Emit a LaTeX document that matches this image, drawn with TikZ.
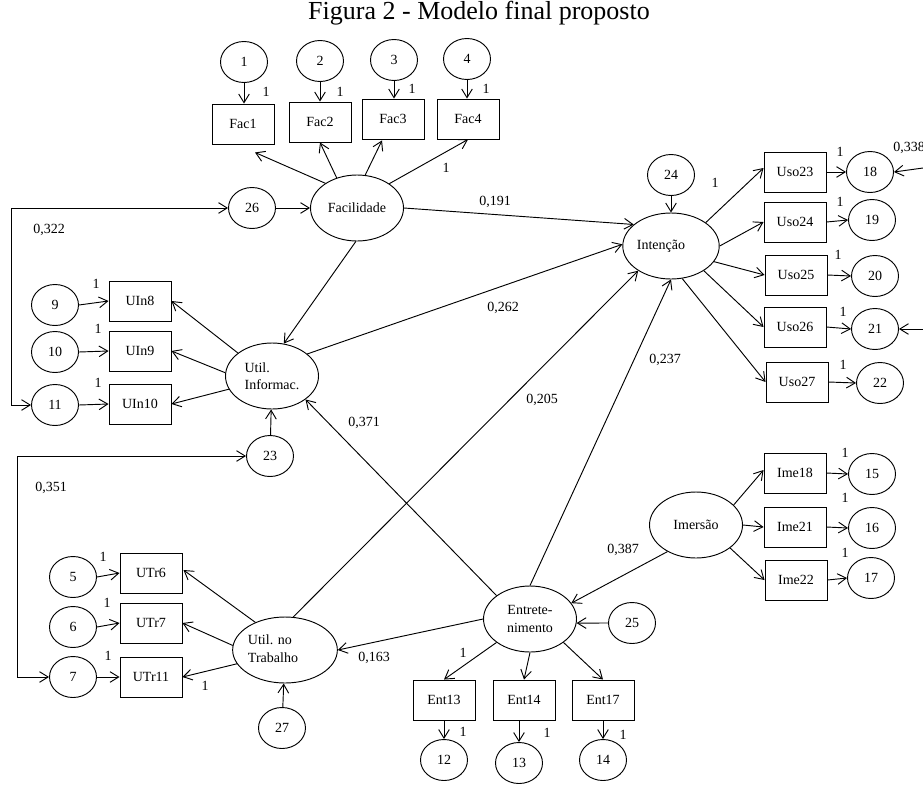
\documentclass[tikz,border=0pt]{standalone}
\usepackage{fontspec}
\setmainfont{Liberation Serif}
\usetikzlibrary{shapes.geometric,arrows.meta,calc}
\begin{document}
\begin{tikzpicture}[x=0.75pt,y=-0.75pt,
  font=\fontsize{10.5}{13}\selectfont,
  lat/.style={ellipse,draw,line width=0.7pt,minimum width=69.75pt,minimum height=49.5pt,inner sep=0pt},
  err/.style={ellipse,draw,line width=0.7pt,minimum width=35.25pt,minimum height=30.75pt,inner sep=0pt},
  obs/.style={rectangle,draw,line width=0.7pt,minimum width=46.5pt,minimum height=30pt,inner sep=0pt},
  arr/.style={-{Straight Barb[length=6.5pt,width=8pt]},line width=0.7pt},
  cov/.style={{Straight Barb[length=6.5pt,width=8pt]}-{Straight Barb[length=6.5pt,width=8pt]},line width=0.7pt},
  lbl/.style={inner sep=0pt}]
\useasboundingbox (0,0) rectangle (923,785);

% title
\node[lbl,font=\fontsize{19.5}{22}\selectfont] (title) at (479,13) {Figura 2 - Modelo final proposto};

% Facilidade block
\node[err] (e1) at (244,62) {1};
\node[err] (e2) at (320,61) {2};
\node[err] (e3) at (394,60) {3};
\node[err] (e4) at (467,59) {4};
\node[obs] (fac1) at (243,124) {Fac1};
\node[obs] (fac2) at (320,122) {Fac2};
\node[obs] (fac3) at (393,119) {Fac3};
\node[obs] (fac4) at (468,119) {Fac4};
\node[lat] (fac) at (357,208) {Facilidade};
\node[err] (e26) at (252,208) {26};

% Intencao block
\node[lat] (int) at (671,246) {Intenção\hspace*{15pt}};
\node[err] (e24) at (671,175) {24};
\node[obs] (uso23) at (795,172) {Uso23};
\node[obs] (uso24) at (795,222) {Uso24};
\node[obs] (uso25) at (796,275) {Uso25};
\node[obs] (uso26) at (795,327) {Uso26};
\node[obs] (uso27) at (797,382) {Uso27};
\node[err] (e18) at (870,172) {18};
\node[err] (e19) at (872,220) {19};
\node[err] (e20) at (875,276) {20};
\node[err] (e21) at (875,329) {21};
\node[err] (e22) at (880,383) {22};
\coordinate (r18) at (923,168);
\coordinate (r21) at (923,329);

% Util. Informac. block
\node[lat,align=left] (uinf) at (272,376) {Util.\\Informac.};
\node[err] (e9) at (55,305) {9};
\node[err] (e10) at (55,352) {10};
\node[err] (e11) at (55,405) {11};
\node[obs] (uin8) at (140,301) {UIn8};
\node[obs] (uin9) at (140,351) {UIn9};
\node[obs] (uin10) at (140,404) {UIn10};
\node[err] (e23) at (270,456) {23};

% Util. no Trabalho block
\node[lat] (utr) at (285,650) {\begin{tabular}{@{}l@{\hspace{18pt}}}Util. no\\Trabalho\end{tabular}};
\node[err] (e5) at (73,577) {5};
\node[err] (e6) at (73,627) {6};
\node[err] (e7) at (73,677) {7};
\node[obs] (utr6) at (151,573) {UTr6};
\node[obs] (utr7) at (151,623) {UTr7};
\node[obs] (utr11) at (151,677) {UTr11};
\node[err] (e27) at (282,728) {27};

% Entretenimento block
\node[lat,align=center] (ent) at (530,619) {Entrete-\\nimento};
\node[err] (e25) at (632,623) {25};
\node[obs] (ent13) at (444,700) {Ent13};
\node[obs] (ent14) at (524,700) {Ent14};
\node[obs] (ent17) at (603,700) {Ent17};
\node[err] (e12) at (444,760) {12};
\node[err] (e13) at (519,763) {13};
\node[err] (e14) at (603,760) {14};

% Imersao block
\node[lat] (imr) at (696,525) {Imersão};
\node[obs] (ime18) at (795,473) {Ime18};
\node[obs] (ime21) at (795,527) {Ime21};
\node[obs] (ime22) at (796,580) {Ime22};
\node[err] (e15) at (872,474) {15};
\node[err] (e16) at (872,528) {16};
\node[err] (e17) at (871,578) {17};

% ---- connectors ----
\draw[arr] (e1.south) -- (e1.south |- fac1.north);
\draw[arr] (e2.south) -- (e2.south |- fac2.north);
\draw[arr] (e3.south) -- (e3.south |- fac3.north);
\draw[arr] (e4.south) -- (e4.south |- fac4.north);
\draw[arr] (fac.142) -- ($(fac1.south)+(12,8)$);
\draw[arr] (fac.124) -- (fac2.south);
\draw[arr] (fac.76) -- ($(fac3.south)+(-11,1)$);
\draw[arr] (fac.37) -- (fac4.south);
\draw[arr] (e26) -- (fac);
\draw[arr] (fac.east) -- (int.150);
\draw[arr] (fac.268) -- (uinf.70);

\draw[arr] (uinf.32) -- (int.178);
\draw[arr] (uinf.146) -- (uin8.east);
\draw[arr] (uinf.176) -- (uin9.east);
\draw[arr] (uinf.197) -- (uin10.east);
\draw[arr] (e9.east) -- (uin8.west);
\draw[arr] (e10.east) -- (uin9.west);
\draw[arr] (e11.east) -- (uin10.west);
\draw[arr] (e23) -- (uinf);
\draw[cov] (e11.west) -- ++(-20,0) |- (e26.west);
\draw[cov] (e7.west) -- ++(-32,0) |- (e23.west);

\draw[arr] (utr.137) -- ($(utr6.east)+(1,-3)$);
\draw[arr] (utr.175) -- (utr7.east);
\draw[arr] (utr.196) -- (utr11.east);
\draw[arr] (e5.east) -- (utr6.west);
\draw[arr] (e6.east) -- (utr7.west);
\draw[arr] (e7.east) -- (utr11.west);
\draw[arr] (e27) -- (utr);
\draw[arr] (utr.76) -- (int.217);

\draw[arr] (ent.west) -- (utr.east);
\draw[arr] (ent.145) -- (uinf.325);
\draw[arr] (ent.north) -- (int.south);
\draw[arr] (imr.223) -- (ent.21);
\draw[arr] (e25.west) -- (ent.355);
\draw[arr] (ent.215) -- (ent13.north);
\draw[arr] (ent.south) -- (ent14.north);
\draw[arr] (ent.325) -- (ent17.north);
\draw[arr] (ent13.south) -- (e12.north);
\draw[arr] (e13.north |- ent14.south) -- (e13.north);
\draw[arr] (ent17.south) -- (e14.north);

\draw[arr] (e24) -- (int);
\draw[arr] (int.34) -- ($(uso23.west)+(0,-4)$);
\draw[arr] (int.east) -- (uso24.west);
\draw[arr] (int.340) -- (uso25.west);
\draw[arr] (int.323) -- (uso26.west);
\draw[arr] (int.289) -- (uso27.west);
\draw[arr] (uso23.east) -- (e18.west);
\draw[arr] (uso24.east) -- (e19.west);
\draw[arr] (uso25.east) -- (e20.west);
\draw[arr] (uso26.east) -- (e21.west);
\draw[arr] (uso27.east) -- (e22.west);
\draw[arr] (r18) -- (e18.east);
\draw[arr] (r21) -- (e21.east);

\draw[arr] (imr.28) -- ($(ime18.west)+(0,-3)$);
\draw[arr] (imr.east) -- (ime21.west);
\draw[arr] (imr.326) -- (ime22.west);
\draw[arr] (ime18.east) -- (e15.west);
\draw[arr] (ime21.east) -- (e16.west);
\draw[arr] (ime22.east) -- (e17.west);

% ---- labels ----
\node[lbl] (lf1) at (266,92) {1};
\node[lbl] (lf2) at (340,92) {1};
\node[lbl] (lf3) at (412,89) {1};
\node[lbl] (lf4) at (486,89) {1};
\node[lbl] (lfac4) at (446,168) {1};
\node[lbl] (lu8) at (96,284) {1};
\node[lbl] (lu9) at (98,329) {1};
\node[lbl] (lu10) at (98,383) {1};
\node[lbl] (lt6) at (103,557) {1};
\node[lbl] (lt7) at (107,603) {1};
\node[lbl] (lt11) at (108,656) {1};
\node[lbl] (lt11b) at (205,686) {1};
\node[lbl] (luso) at (715,183) {1};
\node[lbl] (lu23) at (840,152) {1};
\node[lbl] (lu24) at (840,202) {1};
\node[lbl] (lu25) at (838,255) {1};
\node[lbl] (lu26) at (843,312) {1};
\node[lbl] (lu27) at (843,365) {1};
\node[lbl] (li18) at (845,453) {1};
\node[lbl] (li21) at (845,498) {1};
\node[lbl] (li22) at (845,553) {1};
\node[lbl] (le13) at (463,653) {1};
\node[lbl] (le13b) at (463,732) {1};
\node[lbl] (le14b) at (547,733) {1};
\node[lbl] (le17b) at (623,735) {1};

\node[lbl] (c191) at (495,202) {0,191};
\node[lbl] (c262) at (503,308) {0,262};
\node[lbl] (c205) at (542,400) {0,205};
\node[lbl] (c237) at (665,360) {0,237};
\node[lbl] (c371) at (364,423) {0,371};
\node[lbl] (c163) at (374,658) {0,163};
\node[lbl] (c387) at (623,550) {0,387};
\node[lbl] (c322) at (49,230) {0,322};
\node[lbl] (c351) at (51,488) {0,351};
\node[lbl,anchor=west] (c338) at (893,148) {0,338};
\end{tikzpicture}
\end{document}
